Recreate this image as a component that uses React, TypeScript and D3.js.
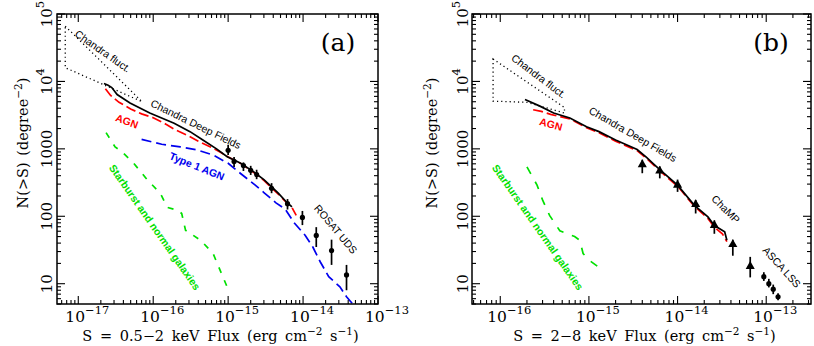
import React, { useRef, useEffect } from 'react'
import * as d3 from 'd3'

type Pt = [number, number]
type ErrPt = [number, number, number, number] // S, N, Nlo, Nhi

// ---------- panel (a): 0.5-2 keV ----------
const softCdf: Pt[] = [
  [2.2e-17, 9300], [2.5e-17, 8800], [2.8e-17, 8100], [3.3e-17, 6400], [4.9e-17, 4800],
  [9e-17, 3400], [1.9e-16, 2400], [3.1e-16, 1800], [4.6e-16, 1350], [7e-16, 1000],
  [9.6e-16, 770], [1.45e-15, 615], [2.2e-15, 455], [3e-15, 350], [3.6e-15, 290],
  [4.7e-15, 218], [6e-15, 163], [7.1e-15, 138],
]
const softAgn: Pt[] = [
  [2.3e-17, 7800], [2.7e-17, 6200], [3.5e-17, 4900], [5e-17, 3900], [7e-17, 3300],
  [1e-16, 2900], [1.5e-16, 2300], [2e-16, 1900], [3e-16, 1550], [4e-16, 1300],
  [6e-16, 1050], [8e-16, 880], [1e-15, 760], [1.5e-15, 600], [2.2e-15, 445],
  [3e-15, 340], [3.6e-15, 280], [4.7e-15, 212], [6e-15, 160], [7.1e-15, 135], [8.1e-15, 103],
]
const softType1: Pt[] = [
  [7e-17, 1380], [1.3e-16, 1170], [2.3e-16, 1070], [3.9e-16, 960], [6.3e-16, 810],
  [1e-15, 610], [1.45e-15, 435], [2.3e-15, 290], [3e-15, 225], [4.35e-15, 158],
  [5.8e-15, 127], [7.6e-15, 80], [1.07e-14, 52], [1.35e-14, 35], [1.7e-14, 21],
  [2.2e-14, 12.7], [3.1e-14, 9], [3.8e-14, 6.4], [4.6e-14, 5],
]
const softGal: Pt[] = [
  [2.35e-17, 1740], [3.1e-17, 1070], [3.8e-17, 910], [5.5e-17, 610], [8.3e-17, 350],
  [1.24e-16, 220], [1.55e-16, 135], [2.15e-16, 122], [2.4e-16, 110], [2.7e-16, 62],
  [4.3e-16, 44], [6.3e-16, 28], [9.8e-16, 8.7],
]
const softFluct: Pt[] = [[6.7e-18, 66000], [7.1e-17, 5000], [6.7e-18, 16000]]
const softPoints: ErrPt[] = [
  [1.0e-15, 950, 810, 1150], [1.2e-15, 650, 540, 760], [1.6e-15, 565, 470, 630],
  [2.0e-15, 480, 410, 560], [2.4e-15, 415, 355, 490], [3.8e-15, 260, 220, 310],
  [6.2e-15, 154, 126, 180], [9.8e-15, 96, 74, 120], [1.5e-14, 52, 35, 69],
  [2.4e-14, 31, 19, 45], [3.8e-14, 13.5, 8, 19],
]

// ---------- panel (b): 2-8 keV ----------
const hardCdf: Pt[] = [
  [1.9e-16, 5400], [2.8e-16, 4300], [4e-16, 3400], [6.1e-16, 2870], [9.4e-16, 2130],
  [1.3e-15, 1800], [2e-15, 1350], [3.5e-15, 975], [4.5e-15, 740], [5.5e-15, 580],
  [6.3e-15, 490], [1e-14, 290], [1.55e-14, 145], [2.2e-14, 98], [2.6e-14, 73],
  [3.4e-14, 59], [3.6e-14, 44],
]
const hardAgn: Pt[] = [
  [2.35e-16, 3800], [2.9e-16, 3600], [3.7e-16, 3250], [5e-16, 2950], [6.1e-16, 2780],
  [9.4e-16, 2060], [1.3e-15, 1740], [2e-15, 1300], [3.5e-15, 940], [4.5e-15, 715],
  [5.5e-15, 560], [6.3e-15, 470], [1e-14, 280], [1.55e-14, 140], [2.2e-14, 93],
  [2.6e-14, 69], [3.2e-14, 55], [3.6e-14, 42],
]
const hardGal: Pt[] = [
  [2e-16, 540], [2.6e-16, 290], [3e-16, 175], [3.6e-16, 103], [4.7e-16, 61],
  [6.9e-16, 50], [7.9e-16, 44], [8.6e-16, 28], [1.02e-15, 22], [1.26e-15, 18],
]
const hardFluct: Pt[] = [
  [8.3e-17, 21500], [5.3e-16, 4100], [5.3e-16, 3400], [2e-16, 4900], [8.3e-17, 5100],
]
const champPoints: ErrPt[] = [
  [4.0e-15, 565, 435, 690], [6.3e-15, 455, 365, 550], [1.0e-14, 280, 230, 350],
  [1.6e-14, 145, 110, 175], [2.6e-14, 71, 55, 87], [4.2e-14, 37, 26, 45],
  [6.6e-14, 17.5, 12.4, 25],
]
const ascaPoints: ErrPt[] = [
  [9.4e-14, 12.7, 11, 14.8], [1.07e-13, 10, 8.8, 11.8], [1.2e-13, 8.3, 7.0, 9.7],
  [1.36e-13, 6.4, 5.7, 7.2],
]

const xDecadesA = [-17, -16, -15, -14, -13]
const xDecadesB = [-16, -15, -14, -13]
const yTickValues = [10, 100, 1000, 1e4, 1e5]
const yTickLabels: [string, string][] = [['10', ''], ['100', ''], ['1000', ''], ['10', '4'], ['10', '5']]

const serif = '"DejaVu Serif", serif'
const sans = '"Liberation Sans", Arial, sans-serif'

interface Label { text: string; x: number; y: number; rot: number; color: string; bold?: boolean }

interface PanelCfg {
  id: string
  xDomain: [number, number]
  xRange: [number, number]
  decades: number[]
  tickBase: number
  titleBase: number
  xTitle: string
  tag: string
  fluct: Pt[]
  lines: { data: Pt[]; color: string; dash: string | null }[]
  points: { data: ErrPt[]; shape: 'circle' | 'triangle' }[]
  labels: Label[]
}

const panels: PanelCfg[] = [
  {
    id: 'a', xDomain: [5.2e-18, 1e-13], xRange: [57, 378], decades: xDecadesA,
    tickBase: 52, titleBase: 28, xTitle: 'S = 0.5−2 keV Flux (erg cm', tag: '(a)',
    fluct: softFluct,
    lines: [
      { data: softGal, color: '#00e000', dash: '6,8' },
      { data: softType1, color: '#0000ee', dash: '10,5' },
      { data: softAgn, color: '#ff0000', dash: '10,4' },
      { data: softCdf, color: '#000', dash: null },
    ],
    points: [{ data: softPoints, shape: 'circle' }],
    labels: [
      { text: 'Chandra fluct.', x: 103, y: 51, rot: 35, color: '#000' },
      { text: 'Chandra Deep Fields', x: 196, y: 124, rot: 26, color: '#000' },
      { text: 'AGN', x: 127, y: 121, rot: 20, color: '#ff0000', bold: true },
      { text: 'Type 1 AGN', x: 197, y: 166, rot: 22, color: '#0000ee', bold: true },
      { text: 'ROSAT UDS', x: 336, y: 229, rot: 50, color: '#000' },
      { text: 'Starburst and normal galaxies', x: 155, y: 227, rot: 55, color: '#00e000', bold: true },
    ],
  },
  {
    id: 'b', xDomain: [4.8e-17, 3.2e-13], xRange: [472, 811], decades: xDecadesB,
    tickBase: 468, titleBase: 437, xTitle: 'S = 2−8 keV Flux (erg cm', tag: '(b)',
    fluct: hardFluct,
    lines: [
      { data: hardGal, color: '#00e000', dash: '8,9' },
      { data: hardAgn, color: '#ff0000', dash: '10,4' },
      { data: hardCdf, color: '#000', dash: null },
    ],
    points: [
      { data: champPoints, shape: 'triangle' },
      { data: ascaPoints, shape: 'circle' },
    ],
    labels: [
      { text: 'Chandra fluct.', x: 539, y: 76, rot: 37, color: '#000' },
      { text: 'Chandra Deep Fields', x: 633, y: 134, rot: 30, color: '#000' },
      { text: 'AGN', x: 551, y: 124, rot: 15, color: '#ff0000', bold: true },
      { text: 'ChaMP', x: 726, y: 209, rot: 45, color: '#000' },
      { text: 'ASCA LSS', x: 782, y: 267, rot: 48, color: '#000' },
      { text: 'Starburst and normal galaxies', x: 538, y: 227, rot: 55, color: '#00e000', bold: true },
    ],
  },
]

const Y_TOP = 14
const Y_BOTTOM = 304

function drawPanel(svg: d3.Selection<SVGSVGElement, unknown, null, undefined>, p: PanelCfg) {
  const x = d3.scaleLog().domain(p.xDomain).range(p.xRange)
  const y = d3.scaleLog().domain([5, 1e5]).range([Y_BOTTOM, Y_TOP])
  const [x0, x1] = p.xRange
  const g = svg.append('g')

  g.append('clipPath').attr('id', 'clip-' + p.id)
    .append('rect').attr('x', x0).attr('y', Y_TOP).attr('width', x1 - x0).attr('height', Y_BOTTOM - Y_TOP)
  const plot = g.append('g').attr('clip-path', `url(#clip-${p.id})`)

  const line = d3.line<Pt>().x((d) => x(d[0])).y((d) => y(d[1]))

  // Chandra fluctuation wedge
  plot.append('path')
    .attr('d', line(p.fluct) + 'Z')
    .attr('fill', 'none').attr('stroke', '#000').attr('stroke-width', 1.3)
    .attr('stroke-dasharray', '1.2,3')

  p.lines.forEach((l) => {
    plot.append('path')
      .attr('d', line(l.data))
      .attr('fill', 'none')
      .attr('stroke', l.color)
      .attr('stroke-width', 1.7)
      .attr('stroke-dasharray', l.dash)
  })

  p.points.forEach((set) => {
    set.data.forEach((d) => {
      const cx = x(d[0])
      const cy = y(d[1])
      plot.append('line')
        .attr('x1', cx).attr('x2', cx).attr('y1', y(d[2])).attr('y2', y(d[3]))
        .attr('stroke', '#000').attr('stroke-width', 1.7)
      if (set.shape === 'circle') {
        plot.append('circle').attr('cx', cx).attr('cy', cy).attr('r', 2.6).attr('fill', '#000')
      } else {
        plot.append('path')
          .attr('d', d3.symbol().type(d3.symbolTriangle).size(36)())
          .attr('transform', `translate(${cx},${cy - 1})`)
          .attr('fill', '#000')
        plot.append('line')
          .attr('x1', cx - 3).attr('x2', cx + 3).attr('y1', cy).attr('y2', cy)
          .attr('stroke', '#000').attr('stroke-width', 1.2)
      }
    })
  })

  // frame
  g.append('rect').attr('x', x0).attr('y', Y_TOP).attr('width', x1 - x0).attr('height', Y_BOTTOM - Y_TOP)
    .attr('fill', 'none').attr('stroke', '#000').attr('stroke-width', 1.5)

  // x ticks (log, with minors) on bottom and top
  const [d0, d1] = p.xDomain
  for (let e = Math.floor(Math.log10(d0)); e <= Math.ceil(Math.log10(d1)); e++) {
    for (let k = 1; k <= 9; k++) {
      const v = k * Math.pow(10, e)
      if (v < d0 * 0.999 || v > d1 * 1.001) continue
      const len = k === 1 ? 8 : 4
      const px = x(v)
      g.append('line').attr('x1', px).attr('x2', px).attr('y1', Y_BOTTOM).attr('y2', Y_BOTTOM - len)
        .attr('stroke', '#000').attr('stroke-width', 1.1)
      g.append('line').attr('x1', px).attr('x2', px).attr('y1', Y_TOP).attr('y2', Y_TOP + len)
        .attr('stroke', '#000').attr('stroke-width', 1.1)
    }
  }
  // y ticks
  for (let e = 0; e <= 5; e++) {
    for (let k = 1; k <= 9; k++) {
      const v = k * Math.pow(10, e)
      if (v < 5 || v > 1e5 * 1.001) continue
      const len = k === 1 ? 8 : 4
      const py = y(v)
      g.append('line').attr('x1', x0).attr('x2', x0 + len).attr('y1', py).attr('y2', py)
        .attr('stroke', '#000').attr('stroke-width', 1.1)
      g.append('line').attr('x1', x1).attr('x2', x1 - len).attr('y1', py).attr('y2', py)
        .attr('stroke', '#000').attr('stroke-width', 1.1)
    }
  }

  // x tick labels
  p.decades.forEach((e) => {
    const t = g.append('text')
      .attr('x', x(Math.pow(10, e)) - 13).attr('y', 322)
      .attr('font-family', serif).attr('font-size', 15.5)
    t.append('tspan').text('10')
    t.append('tspan').attr('dy', -8).attr('font-size', 11.5).text('−' + Math.abs(e))
  })
  // y tick labels
  yTickValues.forEach((v, i) => {
    const [base, sup] = yTickLabels[i]
    const t = g.append('text')
      .attr('transform', `translate(${p.tickBase},${y(v)}) rotate(-90)`)
      .attr('text-anchor', 'middle')
      .attr('font-family', serif).attr('font-size', 15)
    t.append('tspan').text(base)
    if (sup) t.append('tspan').attr('dy', -8).attr('font-size', 11.5).text(sup)
  })

  // axis titles
  const xt = g.append('text')
    .attr('x', (x0 + x1) / 2 + 3).attr('y', 341)
    .attr('text-anchor', 'middle')
    .attr('font-family', serif).attr('font-size', 14.5).attr('word-spacing', 3)
  xt.append('tspan').text(p.xTitle)
  xt.append('tspan').attr('dy', -6).attr('font-size', 10.5).text('−2')
  xt.append('tspan').attr('dy', 6).text(' s')
  xt.append('tspan').attr('dy', -6).attr('font-size', 10.5).text('−1')
  xt.append('tspan').attr('dy', 6).text(')')

  const yt = g.append('text')
    .attr('transform', `translate(${p.titleBase},143) rotate(-90)`)
    .attr('text-anchor', 'middle')
    .attr('font-family', serif).attr('font-size', 14.5).attr('word-spacing', 2)
  yt.append('tspan').text('N(>S) (degree')
  yt.append('tspan').attr('dy', -6).attr('font-size', 10.5).text('−2')
  yt.append('tspan').attr('dy', 6).text(')')

  // panel tag
  g.append('text')
    .attr('x', x1 - 40).attr('y', 51)
    .attr('text-anchor', 'middle')
    .attr('font-family', serif).attr('font-size', 25)
    .text(p.tag)

  // annotations
  p.labels.forEach((l) => {
    g.append('text')
      .attr('transform', `translate(${l.x},${l.y}) rotate(${l.rot})`)
      .attr('text-anchor', 'middle').attr('dominant-baseline', 'central')
      .attr('font-family', sans).attr('font-size', 10.5)
      .attr('font-weight', l.bold ? 'bold' : 'normal')
      .attr('fill', l.color)
      .text(l.text)
  })
}

export default function App() {
  const ref = useRef<SVGSVGElement>(null)

  useEffect(() => {
    const svg = d3.select(ref.current as SVGSVGElement)
    svg.selectAll('*').remove()
    panels.forEach((p) => drawPanel(svg, p))
  }, [])

  return (
    <svg
      ref={ref}
      width={814}
      height={346}
      style={{ position: 'absolute', left: 0, top: 0, background: '#fff' }}
    />
  )
}
